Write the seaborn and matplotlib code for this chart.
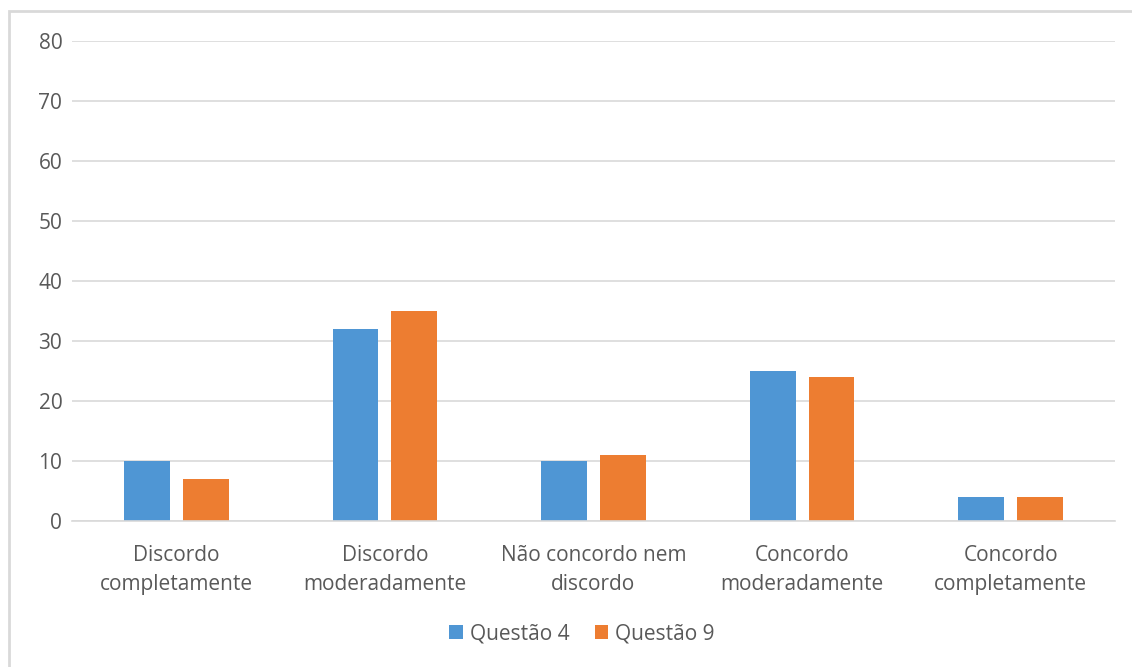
import matplotlib
matplotlib.use("Agg")
import matplotlib.pyplot as plt
from matplotlib.patches import Rectangle
import seaborn as sns
import pandas as pd

categories = [
    "Discordo\ncompletamente",
    "Discordo\nmoderadamente",
    "Não concordo nem\ndiscordo",
    "Concordo\nmoderadamente",
    "Concordo\ncompletamente",
]
questao_4 = [10, 32, 10, 25, 4]
questao_9 = [7, 35, 11, 24, 4]
series_names = ["Questão 4", "Questão 9"]
y_ticks = [0, 10, 20, 30, 40, 50, 60, 70, 80]

df = pd.DataFrame({
    "categoria": categories * 2,
    "valor": questao_4 + questao_9,
    "serie": [series_names[0]] * len(categories) + [series_names[1]] * len(categories),
})

sns.set_theme(style="white")
plt.rcParams["font.family"] = ["Open Sans", "DejaVu Sans"]
text_color = "#595959"
fs = 15

fig = plt.figure(figsize=(11.32, 6.67), dpi=100)
ax = fig.add_axes([72 / 1132, 1 - 521 / 667, (1115 - 72) / 1132, (521 - 41) / 667])

sns.barplot(
    data=df, x="categoria", y="valor", hue="serie",
    palette=["#4F96D4", "#ED7D31"], width=0.564, gap=0.22,
    saturation=1, linewidth=0, ax=ax, legend=True,
)

ax.set_ylim(0, 80)
ax.set_yticks(y_ticks)
ax.set_xlim(-0.5, len(categories) - 0.5)
ax.yaxis.grid(True, color="#D9D9D9", linewidth=1.2)
ax.set_axisbelow(True)
for side in ["top", "right", "left"]:
    ax.spines[side].set_visible(False)
ax.spines["bottom"].set_color("#D9D9D9")
ax.spines["bottom"].set_linewidth(1.2)
ax.set_xlabel("")
ax.set_ylabel("")
ax.tick_params(axis="both", length=0, labelsize=fs, colors=text_color)
ax.tick_params(axis="x", pad=17)
ax.tick_params(axis="y", pad=7)
for lbl in ax.get_xticklabels():
    lbl.set_linespacing(1.5)

handles, labels = ax.get_legend_handles_labels()
ax.legend_.remove()
fig.legend(
    handles, labels, loc="center", bbox_to_anchor=(582 / 1132, 1 - 634 / 667),
    ncol=2, frameon=False, fontsize=fs, labelcolor=text_color,
    handlelength=0.65, handleheight=0.65, handletextpad=0.35, columnspacing=1.2,
)

fig.patches.append(Rectangle(
    (9 / 1132, -0.1), 1.2, 1 - 11 / 667 + 0.1, transform=fig.transFigure,
    fill=False, edgecolor="#D9D9D9", linewidth=2, zorder=-1,
))

fig.savefig("out.png", dpi=100, facecolor="white")
